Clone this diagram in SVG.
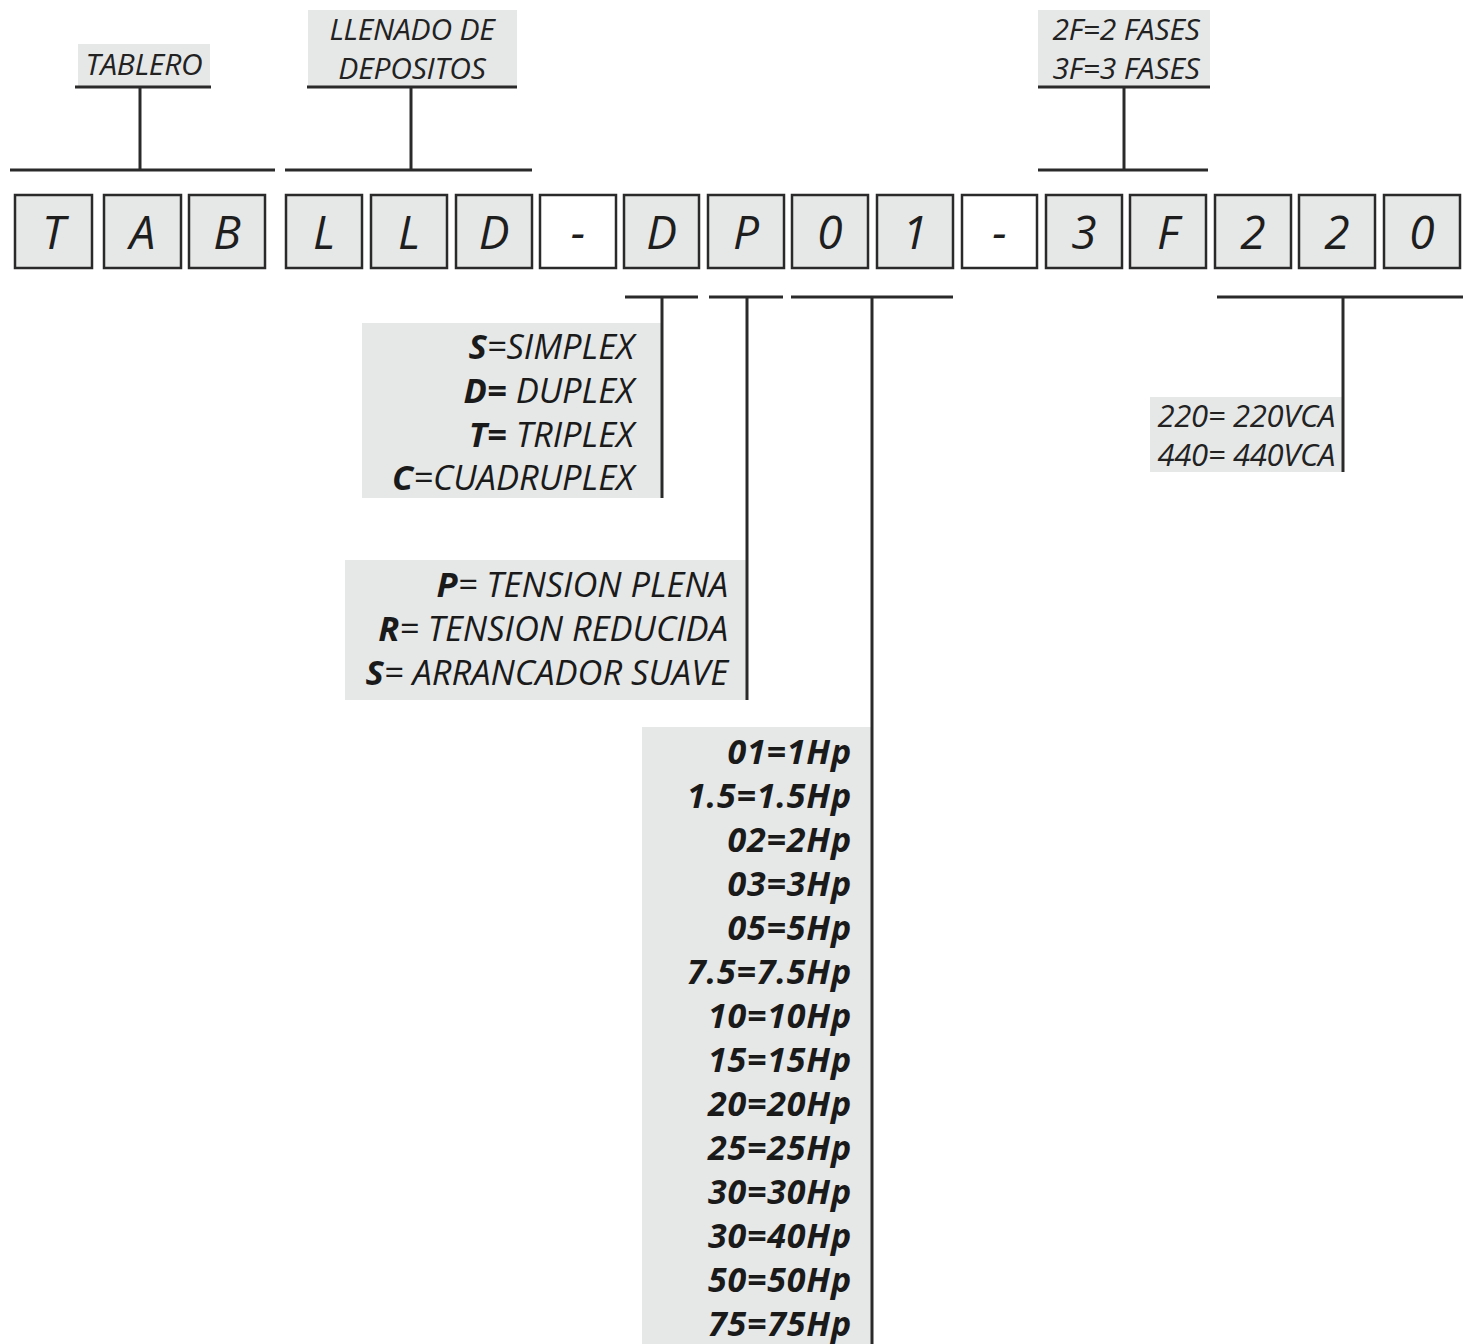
<svg xmlns="http://www.w3.org/2000/svg" width="1463" height="1344" viewBox="0 0 1463 1344">
<style>
.bg{fill:#e6e7e7}
.box{fill:#e6e7e7;stroke:#2a2a2a;stroke-width:2.5}
.wbox{fill:#ffffff;stroke:#2a2a2a;stroke-width:2.5}
.ln{stroke:#2a2a2a;stroke-width:3;fill:none}
.lt{font-family:"Open Sans",sans-serif;font-style:italic;font-size:46px;fill:#1e1e1e;text-anchor:middle}
.lab{font-family:"Open Sans",sans-serif;font-style:italic;font-size:30px;fill:#222;text-anchor:middle;letter-spacing:-0.2px}
.opt{font-family:"Open Sans",sans-serif;font-style:italic;font-size:34.5px;fill:#1a1a1a;text-anchor:end;letter-spacing:0px}
.hp{font-family:"Open Sans",sans-serif;font-style:italic;font-weight:bold;font-size:34px;fill:#1a1a1a;text-anchor:end;letter-spacing:0.8px}
.vca{font-family:"Open Sans",sans-serif;font-style:italic;font-size:31px;fill:#222;text-anchor:end;letter-spacing:-0.3px}
.b{font-weight:bold}
</style>
<rect width="1463" height="1344" fill="#ffffff"/>

<g id="label-tablero">
<rect class="bg" x="78" y="44" width="132" height="42"/>
<text class="lab" x="144" y="75">TABLERO</text>
</g>
<g id="label-llenado">
<rect class="bg" x="308" y="10" width="209" height="76"/>
<text class="lab" x="412" y="40">LLENADO DE</text>
<text class="lab" x="412" y="79">DEPOSITOS</text>
</g>
<g id="label-fases">
<rect class="bg" x="1038" y="10" width="172" height="76"/>
<text class="lab" x="1126" y="40">2F=2 FASES</text>
<text class="lab" x="1126" y="79">3F=3 FASES</text>
</g>

<g id="code-boxes">
<rect class="box" x="15" y="195" width="77" height="73"/><text class="lt" x="53.5" y="249">T</text>
<rect class="box" x="104" y="195" width="77" height="73"/><text class="lt" x="142.5" y="249">A</text>
<rect class="box" x="189" y="195" width="76" height="73"/><text class="lt" x="227" y="249">B</text>
<rect class="box" x="286" y="195" width="76" height="73"/><text class="lt" x="324" y="249">L</text>
<rect class="box" x="371" y="195" width="76" height="73"/><text class="lt" x="409" y="249">L</text>
<rect class="box" x="456" y="195" width="76" height="73"/><text class="lt" x="494" y="249">D</text>
<rect class="wbox" x="540" y="195" width="76" height="73"/><text class="lt" x="578" y="249">-</text>
<rect class="box" x="624" y="195" width="75" height="73"/><text class="lt" x="661.5" y="249">D</text>
<rect class="box" x="708" y="195" width="76" height="73"/><text class="lt" x="746" y="249">P</text>
<rect class="box" x="792" y="195" width="76" height="73"/><text class="lt" x="830" y="249">0</text>
<rect class="box" x="877" y="195" width="76" height="73"/><text class="lt" x="915" y="249">1</text>
<rect class="wbox" x="962" y="195" width="75" height="73"/><text class="lt" x="999.5" y="249">-</text>
<rect class="box" x="1046" y="195" width="76" height="73"/><text class="lt" x="1084" y="249">3</text>
<rect class="box" x="1130" y="195" width="76" height="73"/><text class="lt" x="1168" y="249">F</text>
<rect class="box" x="1215" y="195" width="76" height="73"/><text class="lt" x="1253" y="249">2</text>
<rect class="box" x="1299" y="195" width="76" height="73"/><text class="lt" x="1337" y="249">2</text>
<rect class="box" x="1384" y="195" width="76" height="73"/><text class="lt" x="1422" y="249">0</text>
</g>

<g id="opt-tipo">
<rect class="bg" x="362" y="323" width="300" height="175"/>
<text class="opt" x="634" y="359"><tspan class="b">S</tspan>=SIMPLEX</text>
<text class="opt" x="634" y="403"><tspan class="b">D=</tspan> DUPLEX</text>
<text class="opt" x="634" y="447"><tspan class="b">T=</tspan> TRIPLEX</text>
<text class="opt" x="634" y="490"><tspan class="b">C</tspan>=CUADRUPLEX</text>
</g>
<g id="opt-arranque">
<rect class="bg" x="345" y="560" width="402" height="140"/>
<text class="opt" x="728" y="597"><tspan class="b">P</tspan>= TENSION PLENA</text>
<text class="opt" x="728" y="641"><tspan class="b">R</tspan>= TENSION REDUCIDA</text>
<text class="opt" x="728" y="685"><tspan class="b">S</tspan>= ARRANCADOR SUAVE</text>
</g>
<g id="opt-hp">
<rect class="bg" x="642" y="727" width="230" height="617"/>
<text class="hp" x="852" y="764">01=1Hp</text>
<text class="hp" x="852" y="808">1.5=1.5Hp</text>
<text class="hp" x="852" y="852">02=2Hp</text>
<text class="hp" x="852" y="896">03=3Hp</text>
<text class="hp" x="852" y="940">05=5Hp</text>
<text class="hp" x="852" y="984">7.5=7.5Hp</text>
<text class="hp" x="852" y="1028">10=10Hp</text>
<text class="hp" x="852" y="1072">15=15Hp</text>
<text class="hp" x="852" y="1116">20=20Hp</text>
<text class="hp" x="852" y="1160">25=25Hp</text>
<text class="hp" x="852" y="1204">30=30Hp</text>
<text class="hp" x="852" y="1248">30=40Hp</text>
<text class="hp" x="852" y="1292">50=50Hp</text>
<text class="hp" x="852" y="1336">75=75Hp</text>
</g>
<g id="opt-voltaje">
<rect class="bg" x="1150" y="397" width="193" height="75"/>
<text class="vca" x="1335" y="427">220= 220VCA</text>
<text class="vca" x="1335" y="466">440= 440VCA</text>
</g>

<g id="connectors">
<line class="ln" x1="75" y1="87" x2="211" y2="87"/>
<line class="ln" x1="140" y1="87" x2="140" y2="170"/>
<line class="ln" x1="10" y1="170" x2="275" y2="170"/>
<line class="ln" x1="307" y1="87" x2="517" y2="87"/>
<line class="ln" x1="411" y1="87" x2="411" y2="170"/>
<line class="ln" x1="285" y1="170" x2="532" y2="170"/>
<line class="ln" x1="1038" y1="87" x2="1210" y2="87"/>
<line class="ln" x1="1124" y1="87" x2="1124" y2="170"/>
<line class="ln" x1="1038" y1="170" x2="1208" y2="170"/>
<line class="ln" x1="625" y1="297" x2="698" y2="297"/>
<line class="ln" x1="662" y1="297" x2="662" y2="498"/>
<line class="ln" x1="709" y1="297" x2="783" y2="297"/>
<line class="ln" x1="747" y1="297" x2="747" y2="700"/>
<line class="ln" x1="791" y1="297" x2="953" y2="297"/>
<line class="ln" x1="872" y1="297" x2="872" y2="1344"/>
<line class="ln" x1="1217" y1="297" x2="1463" y2="297"/>
<line class="ln" x1="1343" y1="297" x2="1343" y2="472"/>
</g>
</svg>
